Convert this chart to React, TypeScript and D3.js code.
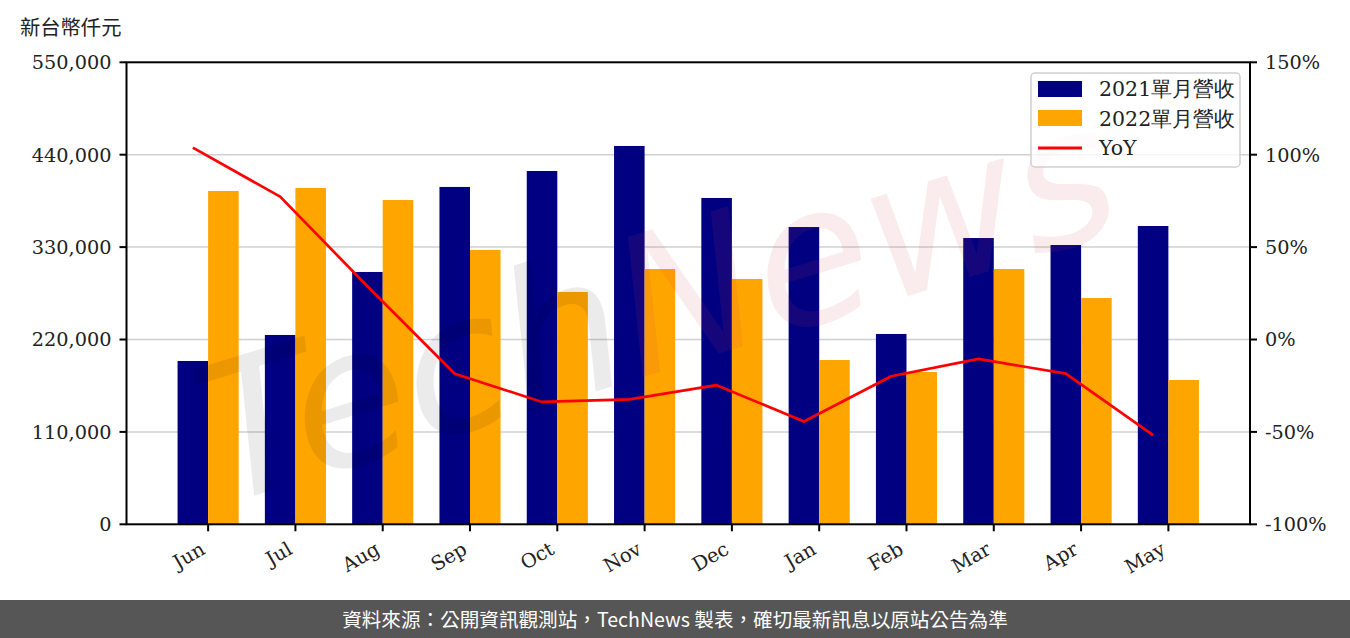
import React from "react";
import * as d3 from "d3";

const months = ["Jun", "Jul", "Aug", "Sep", "Oct", "Nov", "Dec", "Jan", "Feb", "Mar", "Apr", "May"];
const rev2021 = [194400, 225400, 300400, 401600, 420600, 450400, 388500, 353900, 226600, 340800, 332500, 355100];
const rev2022 = [396800, 400400, 386100, 326600, 276600, 303900, 292000, 195600, 181300, 303900, 269400, 171800];
const yoy = [103.8, 77.3, 28.8, -18.5, -33.8, -32.4, -24.7, -44.4, -19.9, -10.5, -18.5, -51.8];
const leftTicks = [0, 110000, 220000, 330000, 440000, 550000];
const rightTicks = [-100, -50, 0, 50, 100, 150];
const legendLabels = ["2021單月營收", "2022單月營收", "YoY"];
const unitLabel = "新台幣仟元";
const footerText = "資料來源：公開資訊觀測站，TechNews 製表，確切最新訊息以原站公告為準";

const W = 1350;
const H = 638;
const L = 126.5;
const R = 1250;
const T = 62.3;
const B = 524.3;
const NAVY = "#000080";
const ORANGE = "#FFA500";
const SERIF = "'DejaVu Serif', serif";
const CJK = "'Noto Sans CJK TC', 'Noto Sans', sans-serif";

export default function App() {
  const x = d3.scaleLinear().domain([-0.935, 11.935]).range([L, R]);
  const yL = d3.scaleLinear().domain([0, 550000]).range([B, T]);
  const yR = d3.scaleLinear().domain([-100, 150]).range([B, T]);
  const bw = 0.35;
  const fmt = d3.format(",");
  const line = d3
    .line<number>()
    .x((_, i) => x(i - bw / 2))
    .y((d) => yR(d));

  return (
    <div style={{ position: "absolute", left: 0, top: 0 }}>
      <svg width={W} height={H} style={{ display: "block" }}>
        <rect x={0} y={0} width={W} height={H} fill="#fff" />
        {/* gridlines */}
        {leftTicks.slice(1, -1).map((t) => (
          <line key={"g" + t} x1={L} x2={R} y1={yL(t)} y2={yL(t)} stroke="#d0d0d0" strokeWidth={1.5} />
        ))}
        {/* bars */}
        {rev2021.map((v, i) => (
          <rect key={"a" + i} x={x(i - bw)} width={x(bw) - x(0)} y={yL(v)} height={yL(0) - yL(v)} fill={NAVY} />
        ))}
        {rev2022.map((v, i) => (
          <rect key={"b" + i} x={x(i)} width={x(bw) - x(0)} y={yL(v)} height={yL(0) - yL(v)} fill={ORANGE} />
        ))}
        {/* yoy line */}
        <path d={line(yoy) || ""} fill="none" stroke="#FF0000" strokeWidth={2.7} strokeLinejoin="round" />
        {/* watermark */}
        <g transform="translate(655,300) rotate(-17)" style={{ pointerEvents: "none" }}>
          <text
            x={0}
            y={70}
            textAnchor="middle"
            fontFamily="'DejaVu Sans', sans-serif"
            fontStyle="italic"
            fontSize={190}
          >
            <tspan fill="#000" fillOpacity={0.08}>Tech</tspan>
            <tspan fill="#d23c4b" fillOpacity={0.1}>News</tspan>
          </text>
        </g>
        {/* spines */}
        <rect x={L} y={T} width={R - L} height={B - T} fill="none" stroke="#000" strokeWidth={2} />
        {/* left ticks */}
        {leftTicks.map((t) => (
          <g key={"l" + t}>
            <line x1={L - 7} x2={L} y1={yL(t)} y2={yL(t)} stroke="#000" strokeWidth={2} />
            <text x={L - 15} y={yL(t)} dy="0.36em" textAnchor="end" fontFamily={SERIF} fontSize={19.3} fill="#222">
              {fmt(t)}
            </text>
          </g>
        ))}
        {/* right ticks */}
        {rightTicks.map((t) => (
          <g key={"r" + t}>
            <line x1={R} x2={R + 7} y1={yR(t)} y2={yR(t)} stroke="#000" strokeWidth={2} />
            <text x={R + 15} y={yR(t)} dy="0.36em" textAnchor="start" fontFamily={SERIF} fontSize={19.3} fill="#222">
              {t + "%"}
            </text>
          </g>
        ))}
        {/* bottom ticks */}
        {months.map((m, i) => (
          <g key={"m" + m}>
            <line x1={x(i)} x2={x(i)} y1={B} y2={B + 7} stroke="#000" strokeWidth={2} />
            <text
              transform={`translate(${x(i) - 9},${B + 16}) rotate(-30)`}
              textAnchor="end"
              dy="0.75em"
              fontFamily={SERIF}
              fontSize={19.5}
              fill="#222"
            >
              {m}
            </text>
          </g>
        ))}
        {/* unit label */}
        <text x={20} y={35} fontFamily={CJK} fontSize={20.3} fill="#222">
          {unitLabel}
        </text>
        {/* legend */}
        <rect x={1031} y={73} width={209} height={94} rx={4} fill="#fff" fillOpacity={0.8} stroke="#d0d0d0" strokeWidth={1.5} />
        <rect x={1038} y={81} width={44} height={16} fill={NAVY} />
        <rect x={1038} y={110} width={44} height={16} fill={ORANGE} />
        <line x1={1038} x2={1082} y1={148} y2={148} stroke="#FF0000" strokeWidth={3} />
        {legendLabels.map((s, i) => (
          <text key={s} x={1099} y={89 + i * 29.5} dy="0.36em" fontFamily={SERIF} fontSize={20.5} fill="#222">
            {s}
          </text>
        ))}
        {/* footer */}
        <rect x={0} y={600} width={W} height={38} fill="#565656" />
        <text x={675} y={620} dy="0.36em" textAnchor="middle" fontFamily={CJK} fontSize={19.6} fill="#fff">
          {footerText}
        </text>
      </svg>
    </div>
  );
}
